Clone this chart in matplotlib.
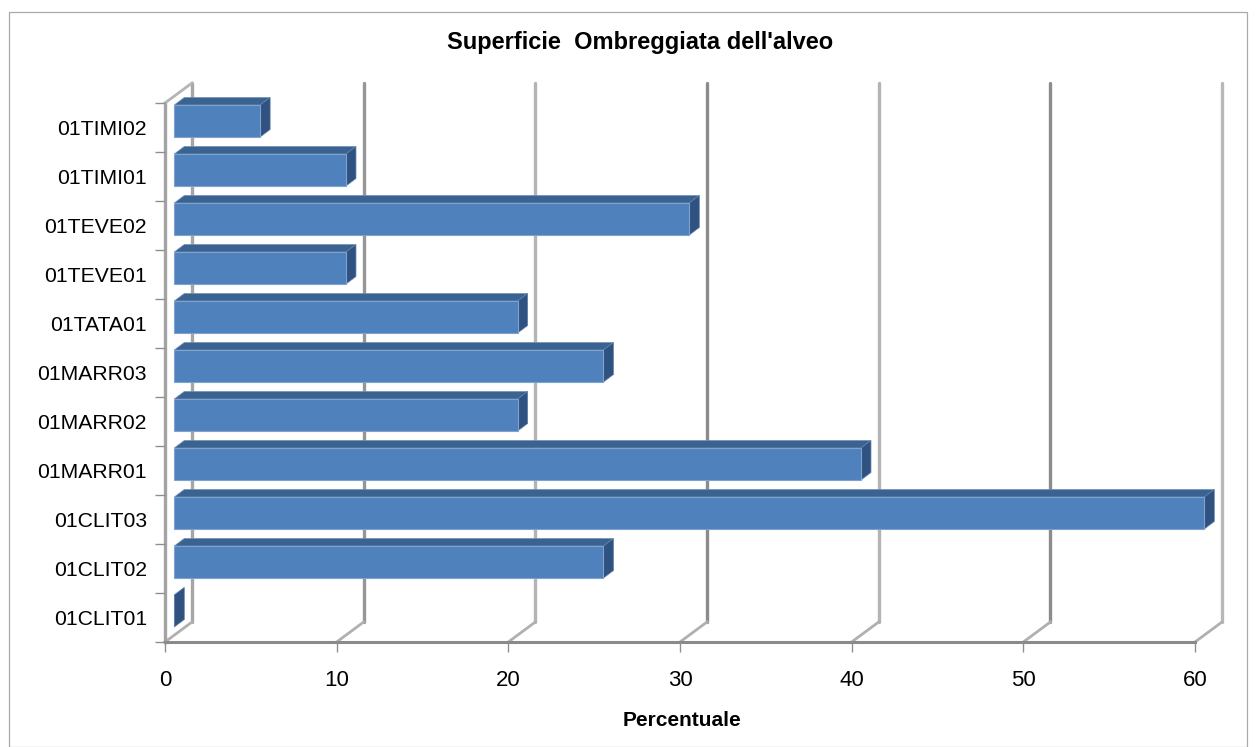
import matplotlib
matplotlib.use("Agg")
import matplotlib.pyplot as plt
from matplotlib.patches import Polygon, Rectangle

W, H = 1256, 747
categories = ["01CLIT01", "01CLIT02", "01CLIT03", "01MARR01", "01MARR02", "01MARR03",
              "01TATA01", "01TEVE01", "01TEVE02", "01TIMI01", "01TIMI02"]
values = [0, 25, 60, 40, 20, 25, 20, 10, 30, 10, 5]
xticks = [0, 10, 20, 30, 40, 50, 60]
grid_colors = ["#a6a6a6", "#969696", "#b4b4b4", "#8c8c8c", "#b4b4b4", "#8c8c8c", "#b8b8b8"]
title = "Superficie  Ombreggiata dell'alveo"
xlabel = "Percentuale"

plt.rcParams["font.family"] = ["Liberation Sans", "DejaVu Sans"]
fig = plt.figure(figsize=(W / 100, H / 100), dpi=100)
fig.add_artist(Rectangle((9 / W, 0.5 / H), (1247 - 9) / W, (H - 12.5) / H, transform=fig.transFigure,
                         fc="white", ec="#a9a9a9", lw=0.9, zorder=-1))

x0, x1, ytop, ybot = 165, 1195, 103, 642
ax = fig.add_axes([x0 / W, 1 - ybot / H, (x1 - x0) / W, (ybot - ytop) / H])
ax.set_xlim(0, 60)
ax.set_ylim(-0.5, 10.5)
ax.patch.set_alpha(0)
for s in ["top", "right", "left", "bottom"]:
    ax.spines[s].set_visible(False)

px = 60 / (x1 - x0)
py = 11 / (ybot - ytop)
depth_x, depth_y = 27 * px, 20 * py
off = 9.3 * px
bar_dx, bar_dy = 10 * px, 7.5 * py
bh = 32 * py
lift = 6.5 * py

# walls
for xv, c in zip(xticks, grid_colors):
    ax.plot([xv + depth_x, xv + depth_x], [-0.5 + depth_y, 10.5 + depth_y],
            color=c, lw=2.4, solid_capstyle="round", clip_on=False, zorder=1)
    ax.plot([xv, xv + depth_x], [-0.5, -0.5 + depth_y],
            color="#b0b0b0", lw=2.0, clip_on=False, zorder=1)
ax.plot([0, 0], [-0.5, 10.5], color="#a3a3a3", lw=2.4, clip_on=False, zorder=1.5)
ax.plot([0, depth_x], [10.5, 10.5 + depth_y], color="#b5b5b5", lw=2.0, clip_on=False, zorder=1.5)
ax.plot([0, 60], [-0.5, -0.5], color="#8a8a8a", lw=2.2, clip_on=False, zorder=1.5)

# bars
for i, v in enumerate(values):
    l = off
    r = off + v
    b, t = i + lift - bh / 2, i + lift + bh / 2
    ax.add_patch(Polygon([[l, t], [l + bar_dx, t + bar_dy], [r + bar_dx, t + bar_dy], [r, t]],
                         fc="#3b6392", ec="#6f8fb5", lw=0.5, zorder=3, clip_on=False))
    ax.add_patch(Polygon([[r, b], [r + bar_dx, b + bar_dy], [r + bar_dx, t + bar_dy], [r, t]],
                         fc="#2f5280", ec="#5e7fa8", lw=0.5, zorder=3, clip_on=False))
    if v > 0:
        ax.barh(i + lift, v, height=bh, left=off, color="#4f81bd", edgecolor="#7fa3cf", lw=0.8,
                zorder=4, clip_on=False)

ax.set_xticks(xticks)
ax.set_yticks(range(len(categories)), categories)
ax.set_yticks([i - 0.5 for i in range(len(categories) + 1)], minor=True)
ax.tick_params(axis="y", which="major", length=0, pad=13, labelsize=15.2, labelcolor="black")
ax.tick_params(axis="y", which="minor", length=7, width=1, color="#8f8f8f")
ax.tick_params(axis="x", length=7, width=1, color="#8f8f8f", pad=13, labelsize=16, labelcolor="black")

fig.text(640 / W, 1 - 42.5 / H, title, fontsize=17, fontweight="bold", ha="center", va="center")
fig.text(682 / W, 1 - 721 / H, xlabel, fontsize=15, fontweight="bold", ha="center", va="center")
fig.savefig("out.png", dpi=100)
